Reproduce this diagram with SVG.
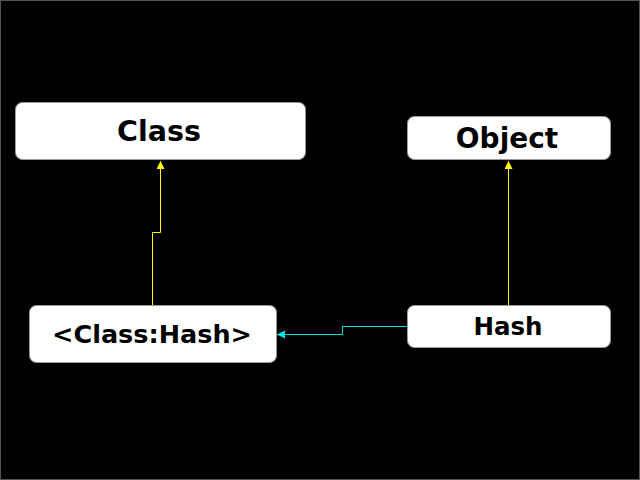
<svg xmlns="http://www.w3.org/2000/svg" width="640" height="480" viewBox="0 0 640 480">
<defs>
<style>
.node rect{fill:#fff;stroke:#999;stroke-width:1}
.node text{font-family:"DejaVu Sans",sans-serif;font-weight:bold;font-size:25px;fill:#000;text-anchor:middle;dominant-baseline:central}
.y{fill:none;stroke:#ffff00;stroke-width:1}
.c{fill:none;stroke:#00e5e5;stroke-width:1}
</style>
<marker id="ay" markerWidth="8" markerHeight="10" refX="8" refY="4" orient="auto" markerUnits="userSpaceOnUse"><path d="M0,0 L8,4 L0,8 Z" fill="#ffff00"/></marker>
<marker id="ac" markerWidth="8" markerHeight="10" refX="8" refY="4" orient="auto" markerUnits="userSpaceOnUse"><path d="M0,0 L8,4 L0,8 Z" fill="#00e5e5"/></marker>
</defs>
<rect x="0" y="0" width="640" height="480" fill="#000"/>
<rect x="0.5" y="0.5" width="639" height="479" fill="none" stroke="#555"/>
<g id="edges">
<path class="y" d="M152.5,305 V232.5 H160.5 V161" marker-end="url(#ay)"/>
<path class="y" d="M508.5,305 V161" marker-end="url(#ay)"/>
<path class="c" d="M407,326.5 H342.5 V334.5 H277" marker-end="url(#ac)"/>
</g>
<g id="Class" class="node"><rect x="15.5" y="102.5" width="290" height="57" rx="7"/><text x="159" y="131" style="font-size:28.5px">Class</text></g>
<g id="Object" class="node"><rect x="407.5" y="116.5" width="203" height="43" rx="7"/><text x="507" y="138" style="font-size:28px">Object</text></g>
<g id="ClassHash" class="node"><rect x="29.5" y="305.5" width="247" height="57" rx="7"/><text x="152" y="334" style="font-size:25.5px">&lt;Class:Hash&gt;</text></g>
<g id="Hash" class="node"><rect x="407.5" y="305.5" width="203" height="42" rx="7"/><text x="508" y="326" style="font-size:24.5px">Hash</text></g>
</svg>
